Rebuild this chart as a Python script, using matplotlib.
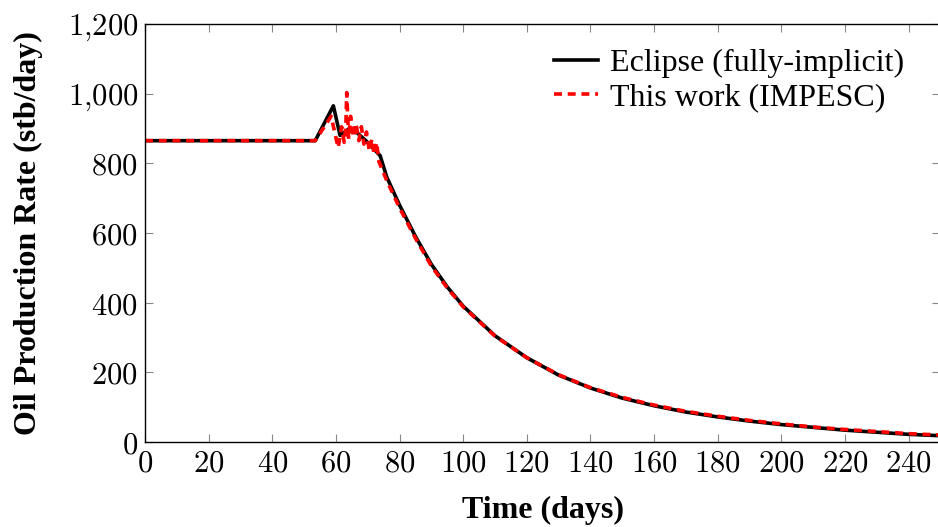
import matplotlib.pyplot as plt
from matplotlib.ticker import FuncFormatter

plt.rcParams['mathtext.fontset'] = 'cm'

# Eclipse (fully-implicit) -- time in days, rate in stb/day
ecl_t = [0, 53.5, 59.2, 61.3, 64.4, 67, 70, 73.9, 76, 80, 85, 90, 95, 100,
         110, 120, 130, 140, 150, 160, 170, 180, 190, 200, 210, 220, 230, 240, 250]
ecl_q = [865, 865, 965, 880, 901, 885, 860, 822, 760, 680, 590, 510, 445, 390,
         305, 242, 192, 155, 126, 104, 86, 72, 60, 50, 42, 34, 28, 22, 18]

# This work (IMPESC)
imp_t = [0, 53.5, 56, 58.5, 60.7, 61.8, 62.6, 63.1, 63.4, 64.0, 64.6, 65.5,
         66.3, 67.2, 68.0, 68.8, 69.6, 70.5, 71.3, 72.0, 72.8, 73.5, 76, 80,
         85, 90, 95, 100, 110, 120, 130, 140, 150, 160, 170, 180, 190, 200,
         210, 220, 230, 240, 250]
imp_q = [865, 865, 900, 935, 845, 905, 860, 900, 1003, 870, 935, 875,
         915, 865, 905, 855, 890, 835, 870, 825, 860, 805, 750, 672,
         585, 505, 442, 388, 304, 242, 193, 156, 128, 106, 88, 74, 62, 52,
         43, 36, 30, 24, 20]

fig = plt.figure(figsize=(9.38, 5.27), dpi=100)
ax = fig.add_axes([0.1546, 0.1613, 0.848, 0.7932])

ax.plot(ecl_t, ecl_q, color='black', lw=2.6, label='Eclipse (fully-implicit)')
ax.plot(imp_t, imp_q, color='red', lw=2.6, ls=(0, (2.2, 1.6)),
        label='This work (IMPESC)')

ax.set_xlim(0, 250)
ax.set_ylim(0, 1200)
ax.set_xticks(range(0, 241, 20))
ax.set_yticks(range(0, 1201, 200))


def fmt(v, pos):
    v = int(v)
    if v >= 1000:
        return r'$%d{,}%03d$' % (v // 1000, v % 1000)
    return r'$%d$' % v


ax.xaxis.set_major_formatter(FuncFormatter(fmt))
ax.yaxis.set_major_formatter(FuncFormatter(fmt))
ax.tick_params(direction='in', length=6, width=0.8, color='#888888',
               top=True, right=True, labelsize=22, pad=5)
for s in ax.spines.values():
    s.set_linewidth(1.0)

ax.set_xlabel('Time (days)', family='Liberation Serif', fontweight='bold',
              fontsize=23, labelpad=13)
ax.set_ylabel('Oil Production Rate (stb/day)', family='Liberation Serif',
              fontweight='bold', fontsize=23, labelpad=18)

leg = ax.legend(loc='upper right', frameon=False, handlelength=1.4,
                handletextpad=0.35, labelspacing=0.15,
                bbox_to_anchor=(0.99, 1.01),
                prop={'family': 'Liberation Serif', 'size': 23})

fig.savefig('out.png', dpi=100)
